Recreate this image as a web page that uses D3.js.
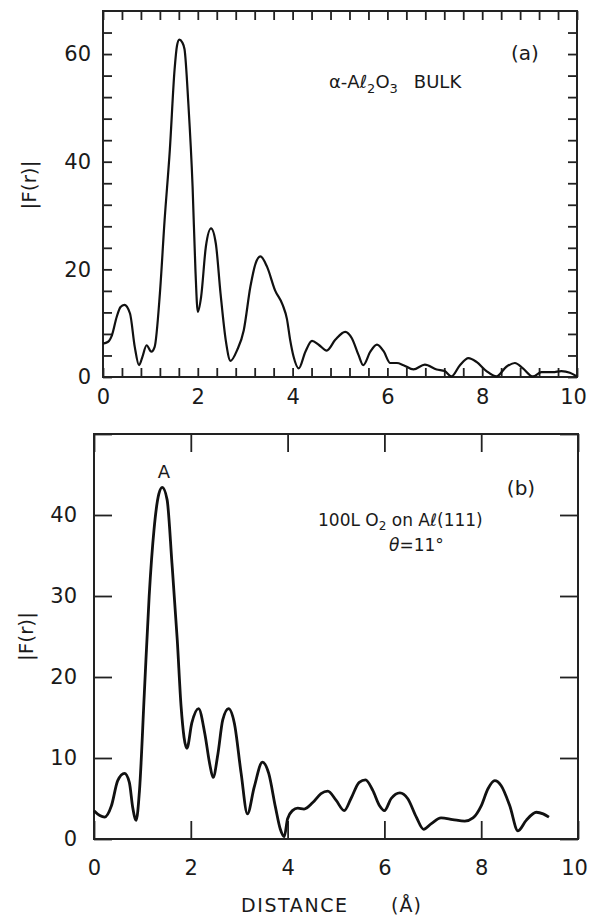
<!DOCTYPE html>
<html>
<head>
<meta charset="utf-8">
<script src="https://cdn.jsdelivr.net/npm/d3@7"></script>
<style>
  html, body { margin: 0; padding: 0; background: #fff; }
  svg { display: block; }
  text { font-family: "DejaVu Sans", sans-serif; fill: #1a1a1a; }
</style>
</head>
<body>
<div id="chart"></div>
<script>
// --- Data ---
// (a) bulk alpha-Al2O3
const bulkR = [0.00, 0.10, 0.19, 0.29, 0.37, 0.45, 0.57, 0.67, 0.76, 0.83, 0.92, 1.02, 1.09,
  1.20, 1.30, 1.41, 1.51, 1.56, 1.61, 1.67, 1.72, 1.80, 1.89, 1.95, 2.00, 2.07, 2.17, 2.28,
  2.38, 2.48, 2.59, 2.69, 2.83, 2.97, 3.11, 3.22, 3.32, 3.46, 3.63, 3.79, 3.88, 3.95, 4.02,
  4.13, 4.27, 4.41, 4.55, 4.72, 4.90, 5.11, 5.25, 5.39, 5.49, 5.64, 5.78, 5.92, 6.06, 6.20,
  6.34, 6.55, 6.79, 7.04, 7.21, 7.35, 7.53, 7.71, 7.88, 8.09, 8.30, 8.51, 8.69, 8.86, 9.07,
  9.25, 9.49, 9.67, 9.85, 10.0];
const bulkF = [6.2, 6.5, 7.8, 11.2, 13.0, 13.4, 11.8, 5.6, 2.2, 3.7, 5.9, 4.7, 5.6,
  15.5, 29.2, 42.2, 57.1, 61.5, 62.7, 62.2, 60.9, 50.9, 35.4, 19.9, 12.1, 14.9, 24.2, 27.6,
  24.8, 15.5, 6.8, 3.0, 5.0, 8.7, 16.8, 21.1, 22.4, 20.5, 16.1, 13.4, 10.8, 6.8, 3.8,
  1.6, 4.7, 6.7, 6.0, 4.9, 6.9, 8.4, 7.2, 4.1, 2.2, 4.7, 6.0, 4.8, 2.6, 2.6,
  2.2, 1.4, 2.3, 1.4, 1.1, 0.1, 2.2, 3.5, 2.8, 1.1, 0.1, 1.9, 2.6, 1.6, 0.1,
  0.9, 0.9, 1.1, 0.8, 0.1];

// (b) 100 L O2 on Al(111)
const oxideR = [0.00, 0.12, 0.22, 0.36, 0.49, 0.63, 0.73, 0.80, 0.87, 0.94, 1.04, 1.14, 1.24,
  1.34, 1.41, 1.51, 1.61, 1.72, 1.80, 1.92, 2.02, 2.16, 2.29, 2.39, 2.46, 2.56, 2.66, 2.78,
  2.90, 3.04, 3.17, 3.31, 3.48, 3.61, 3.75, 3.85, 3.93, 4.00, 4.10, 4.21, 4.34, 4.52, 4.69,
  4.83, 5.00, 5.17, 5.31, 5.48, 5.61, 5.76, 5.90, 6.00, 6.14, 6.32, 6.48, 6.66, 6.81, 6.97,
  7.17, 7.41, 7.66, 7.83, 8.00, 8.14, 8.28, 8.41, 8.59, 8.76, 8.93, 9.14, 9.28, 9.40];
const oxideF = [3.5, 2.9, 2.7, 4.1, 7.2, 8.1, 7.0, 3.9, 2.3, 6.0, 18.0, 30.0, 38.2,
  42.6, 43.4, 41.9, 34.1, 24.6, 16.3, 11.2, 14.3, 16.1, 13.0, 9.3, 7.6, 10.5, 14.7, 16.1,
  14.3, 8.1, 3.1, 6.4, 9.5, 8.1, 3.9, 1.2, 0.3, 2.5, 3.5, 3.8, 3.7, 4.5, 5.6,
  5.9, 4.8, 3.5, 5.0, 7.0, 7.3, 6.0, 4.1, 3.5, 5.0, 5.7, 5.0, 2.7, 1.2, 1.9,
  2.6, 2.4, 2.2, 2.6, 4.1, 6.2, 7.2, 6.6, 4.1, 1.0, 2.3, 3.3, 3.1, 2.7];

// --- Tick values ---
const bulkXTicks = d3.range(26).map(i => +(i * 0.4).toFixed(1));
const bulkYTicks = d3.range(17).map(i => i * 4);
const bulkXLabels = [0, 2, 4, 6, 8, 10];
const bulkYLabels = [0, 20, 40, 60];
const oxideXTicks = [0, 2, 4, 6, 8, 10];
const oxideYTicks = [0, 10, 20, 30, 40, 50];
const oxideYLabels = [0, 10, 20, 30, 40];

const W = 590, H = 916;
const svg = d3.select("#chart").append("svg").attr("width", W).attr("height", H);

function drawPanel(p) {
  const x = d3.scaleLinear().domain([0, 10]).range([p.left, p.right]);
  const y = d3.scaleLinear().domain([0, p.yMax]).range([p.bottom, p.top]);
  const g = svg.append("g");
  const lab = (list) => (d) => list.includes(d) ? String(d) : "";

  // inward ticks on all four sides
  const bx = g.append("g").attr("transform", `translate(0,${p.bottom})`)
    .call(d3.axisBottom(x).tickValues(p.xTicks).tickSize(-p.tick)
      .tickPadding(p.xPad).tickFormat(lab(p.xLabels)));
  g.append("g").attr("transform", `translate(0,${p.top})`)
    .call(d3.axisTop(x).tickValues(p.xTicks).tickSize(-p.tick).tickFormat(""));
  g.append("g").attr("transform", `translate(${p.left},0)`)
    .call(d3.axisLeft(y).tickValues(p.yTicks).tickSize(-p.tick)
      .tickPadding(p.yPad).tickFormat(lab(p.yLabels)));
  g.append("g").attr("transform", `translate(${p.right},0)`)
    .call(d3.axisRight(y).tickValues(p.yTicks).tickSize(-p.tick).tickFormat(""));

  g.selectAll(".domain").remove();
  g.selectAll(".tick line").attr("stroke", "#222").attr("stroke-width", 1.8);
  g.selectAll(".tick text").attr("font-size", 21).attr("fill", "#1a1a1a")
    .attr("font-family", "DejaVu Sans, sans-serif");
  // the "10" at the right edge sits a little left so it stays in the window
  bx.selectAll(".tick text").filter(d => d === 10).attr("dx", -4);

  g.append("rect")
    .attr("x", p.left).attr("y", p.top)
    .attr("width", p.right - p.left).attr("height", p.bottom - p.top)
    .attr("fill", "none").attr("stroke", "#222").attr("stroke-width", 2);

  const pts = p.r.map((r, i) => [r, p.f[i]]);
  g.append("path")
    .datum(pts)
    .attr("fill", "none")
    .attr("stroke", "#111")
    .attr("stroke-width", p.lw)
    .attr("stroke-linejoin", "round")
    .attr("d", d3.line().x(d => x(d[0])).y(d => y(d[1])).curve(d3.curveMonotoneX));

  // y axis title
  g.append("text")
    .attr("transform", `translate(${p.yTitleX},${(p.top + p.bottom) / 2 + p.yTitleDy}) rotate(-90)`)
    .attr("text-anchor", "middle").attr("dy", "0.35em")
    .attr("font-size", 20)
    .text("|F(r)|");
  return g;
}

// --- Panel (a) ---
const ga = drawPanel({
  left: 103, right: 577, top: 11, bottom: 377, yMax: 68,
  xTicks: bulkXTicks, yTicks: bulkYTicks, xLabels: bulkXLabels, yLabels: bulkYLabels,
  tick: 9, xPad: 12, yPad: 12, r: bulkR, f: bulkF, lw: 2.2,
  yTitleX: 29, yTitleDy: -9
});
ga.append("text").attr("x", 525).attr("y", 53).attr("dy", "0.35em")
  .attr("text-anchor", "middle").attr("font-size", 20).text("(a)");
const ta = ga.append("text").attr("x", 329).attr("y", 82).attr("dy", "0.35em")
  .attr("font-size", 18);
ta.append("tspan").text("α-Aℓ");
ta.append("tspan").attr("font-size", 13).attr("dy", 5).text("2");
ta.append("tspan").attr("dy", -5).text("O");
ta.append("tspan").attr("font-size", 13).attr("dy", 5).text("3");
ta.append("tspan").attr("dy", -5).attr("dx", 16).text("BULK");

// --- Panel (b) ---
const gb = drawPanel({
  left: 94, right: 578, top: 434, bottom: 839, yMax: 50,
  xTicks: oxideXTicks, yTicks: oxideYTicks, xLabels: oxideXTicks, yLabels: oxideYLabels,
  tick: 18, xPad: 21, yPad: 17, r: oxideR, f: oxideF, lw: 2.8,
  yTitleX: 26, yTitleDy: 0
});
gb.append("text").attr("x", 164).attr("y", 472).attr("dy", "0.35em")
  .attr("text-anchor", "middle").attr("font-size", 18).text("A");
gb.append("text").attr("x", 521).attr("y", 488).attr("dy", "0.35em")
  .attr("text-anchor", "middle").attr("font-size", 20).text("(b)");
const tb = gb.append("text").attr("x", 318).attr("y", 520).attr("dy", "0.35em")
  .attr("font-size", 17);
tb.append("tspan").text("100L  O");
tb.append("tspan").attr("font-size", 12).attr("dy", 4).text("2");
tb.append("tspan").attr("dy", -4).text(" on Aℓ(111)");
const th = gb.append("text").attr("x", 389).attr("y", 545).attr("dy", "0.35em")
  .attr("font-size", 17);
th.append("tspan").attr("font-style", "italic").text("θ");
th.append("tspan").text("=11°");

// x axis title
svg.append("text").attr("x", 241).attr("y", 905).attr("dy", "0.35em")
  .attr("font-size", 19).attr("letter-spacing", 1.6)
  .text("DISTANCE");
svg.append("text").attr("x", 391).attr("y", 905).attr("dy", "0.35em")
  .attr("font-size", 19).attr("letter-spacing", 1)
  .text("(Å)");
</script>
</body>
</html>
